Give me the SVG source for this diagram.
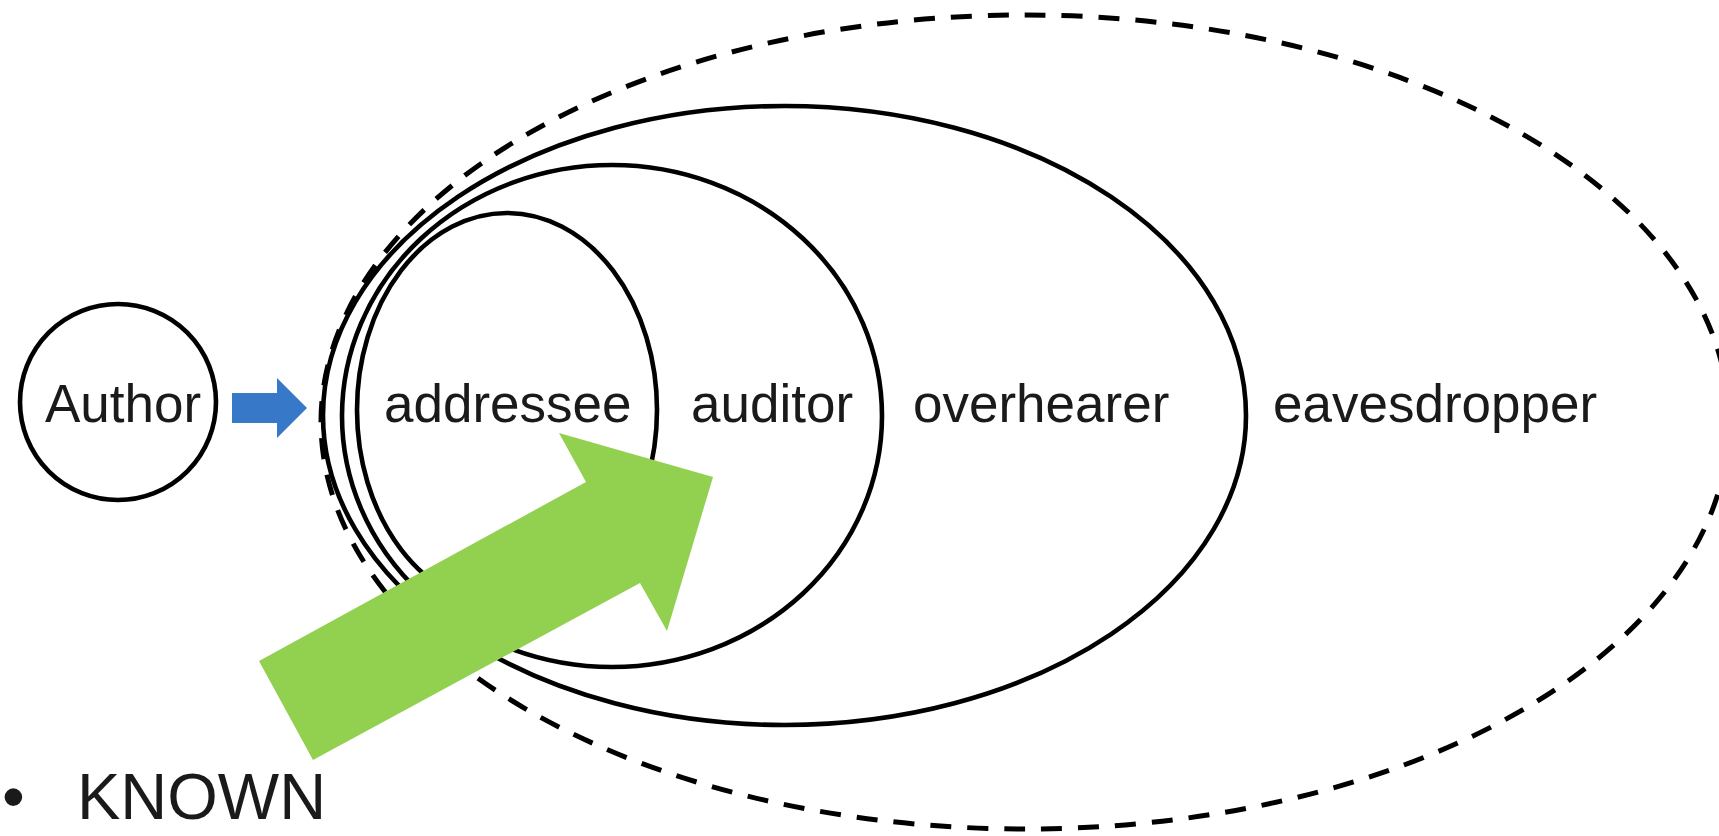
<svg xmlns="http://www.w3.org/2000/svg" width="1719" height="836" viewBox="0 0 1719 836">
<style>
.lbl{font-family:"Liberation Sans",Arial,sans-serif;font-size:53px;fill:#1a1a1a}
.ring{fill:none;stroke:#000;stroke-width:4.6}
.dash{fill:none;stroke:#000;stroke-width:5;stroke-dasharray:21 16}
</style>
<rect width="1719" height="836" fill="#fff"/>
<g id="eavesdropper">
<ellipse class="dash" cx="1025" cy="422" rx="704" ry="407"/>
<text class="lbl" x="1273" y="422">eavesdropper</text>
</g>
<g id="overhearer">
<ellipse class="ring" cx="784.5" cy="415.5" rx="461.5" ry="309.5"/>
<text class="lbl" x="913" y="422">overhearer</text>
</g>
<g id="auditor">
<ellipse class="ring" cx="612" cy="416" rx="270" ry="251"/>
<text class="lbl" x="691" y="422">auditor</text>
</g>
<g id="addressee">
<ellipse class="ring" cx="507" cy="410" rx="150" ry="197"/>
<text class="lbl" x="384" y="422">addressee</text>
</g>
<g id="author">
<circle class="ring" cx="118" cy="402" r="98"/>
<text class="lbl" x="45" y="422">Author</text>
</g>
<g id="connectors">
<polygon points="232,393 277,393 277,378 307,408 277,438 277,423 232,423" fill="#3878c8"/>
<polygon points="313,760 259,661 586,482 559,433 713,477 667,631 640,583" fill="#92d050"/>
</g>
<g id="known">
<text x="2" y="819" style="font-family:'Liberation Sans',Arial,sans-serif;font-size:65px;fill:#1a1a1a">•<tspan x="77">KNOWN</tspan></text>
</g>
</svg>
